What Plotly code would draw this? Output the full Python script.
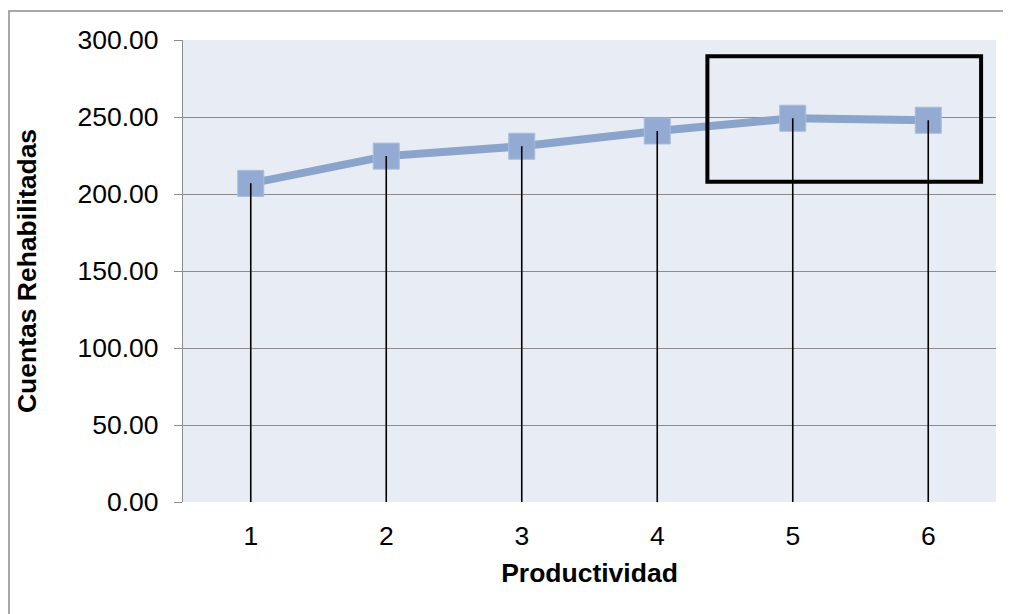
import plotly.graph_objects as go

categories = [1, 2, 3, 4, 5, 6]
cuentas = [206.9, 224.6, 231.0, 240.9, 249.2, 247.9]
y_ticks = [0, 50, 100, 150, 200, 250, 300]
y_ticklabels = ["0.00", "50.00", "100.00", "150.00", "200.00", "250.00", "300.00"]

# drop lines from axis to each point
drop_x, drop_y = [], []
for c, v in zip(categories, cuentas):
    drop_x += [c, c, None]
    drop_y += [0, v, None]

# page is offset by 8px body margin
W, H = 1003, 606
L, R, T, B = 175, 15, 32, 112
PW, PH = W - L - R, H - T - B

fig = go.Figure()
fig.add_trace(go.Scatter(
    x=categories, y=cuentas, mode="lines+markers",
    line=dict(color="#8aa4cb", width=8),
    marker=dict(symbol="square", size=26, color="#93aad3",
                line=dict(color="#a9bcdd", width=1)),
    showlegend=False, hoverinfo="skip"))
fig.add_trace(go.Scatter(
    x=drop_x, y=drop_y, mode="lines",
    line=dict(color="black", width=1.6),
    showlegend=False, hoverinfo="skip"))

fig.update_layout(
    width=W, height=H,
    margin=dict(l=L, r=R, t=T, b=B),
    paper_bgcolor="white", plot_bgcolor="#e8ecf4",
    font=dict(family="Liberation Sans, Arial, sans-serif", size=26.5, color="black"),
    xaxis=dict(
        range=[0.5, 6.5], tickvals=categories, ticktext=[str(c) for c in categories],
        showgrid=False, zeroline=False, showline=False, ticks="",
        ticklabelstandoff=15,
        title=dict(text="<b>Productividad</b>", font=dict(size=26.5), standoff=13),
    ),
    yaxis=dict(
        range=[0, 300], tickvals=y_ticks, ticktext=y_ticklabels,
        showgrid=True, gridcolor="#8c8c8c", gridwidth=1.3,
        zeroline=False, showline=True, linecolor="#8c8c8c", linewidth=1.3,
        ticks="outside", ticklen=8, tickcolor="#8c8c8c", tickwidth=1.3,
        ticklabelstandoff=10,
        title=dict(text="<b>Cuentas Rehabilitadas</b>", font=dict(size=26.5), standoff=33),
    ),
    shapes=[
        dict(type="rect", xref="x", yref="y", x0=4.37, x1=6.39, y0=208, y1=289.5,
             line=dict(color="black", width=4), fillcolor="rgba(0,0,0,0)", layer="above"),
        dict(type="rect", xref="paper", yref="paper",
             x0=-(L - 1) / PW, x1=(W + 20 - L) / PW,
             y0=-(H + 20 - (T + PH)) / PH, y1=(T + PH - 3) / PH,
             line=dict(color="#8c8c8c", width=1.5), fillcolor="rgba(0,0,0,0)"),
    ],
)

fig.write_html("out.html")
